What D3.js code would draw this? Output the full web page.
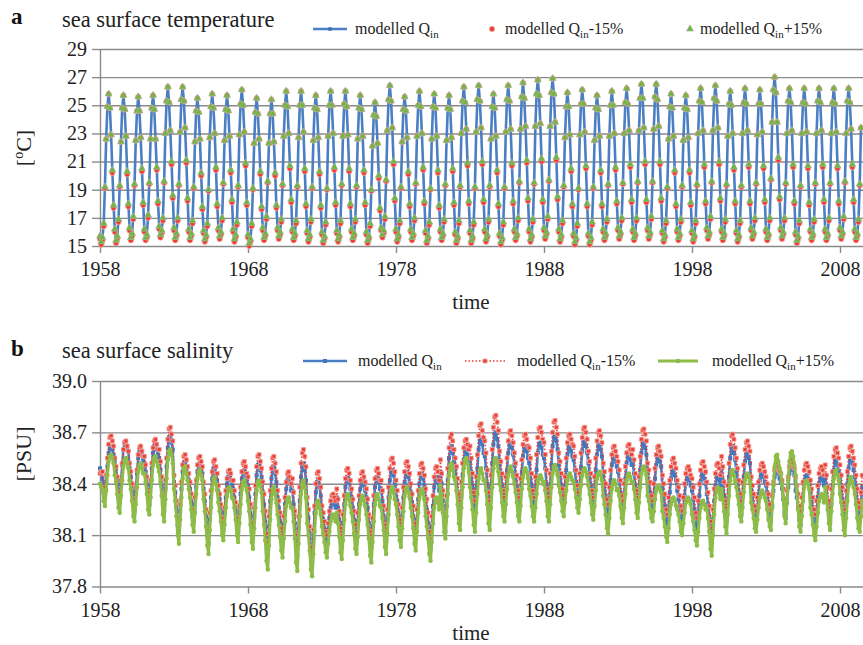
<!DOCTYPE html>
<html>
<head>
<meta charset="utf-8">
<script src="https://cdn.jsdelivr.net/npm/d3@7"></script>
<style>
  body { margin: 0; background: #fff; }
  svg { display: block; }
  svg text { font-family: "Liberation Serif", "Times New Roman", serif; }
</style>
</head>
<body>
<div id="chart"></div>
<script>
// --- DATA: monthly values, one row per year, starting Jan 1958 ---

// sea surface temperature [ºC]
const sstBase = [
  [15.7,15.3,15.6,16.6,19.2,22.6,24.9,25.8,24.8,22.9,20.4,17.9],
  [16.2,15.4,15.7,16.9,19.3,22.4,24.8,25.7,24.7,22.8,20.3,18.0],
  [16.3,15.6,15.9,17.1,19.4,22.5,24.6,25.6,24.6,22.7,20.5,18.1],
  [16.2,15.6,15.8,17.2,19.5,22.6,24.8,25.7,24.7,22.6,20.6,18.2],
  [16.4,15.8,16.1,17.0,19.6,23.0,25.3,26.3,25.2,23.2,21.0,18.6],
  [16.3,15.6,15.9,17.0,19.4,23.1,25.4,26.3,25.3,23.4,21.1,18.4],
  [16.2,15.6,15.9,16.8,19.2,22.4,24.6,25.5,24.5,22.6,20.2,17.8],
  [16.1,15.5,15.8,16.6,19.0,22.7,24.9,25.8,24.8,23.0,20.6,18.0],
  [16.3,15.7,16.0,17.0,19.5,22.5,24.7,25.7,24.6,22.8,20.4,18.3],
  [16.2,15.5,15.8,16.7,19.3,22.9,25.1,26.1,25.0,23.1,20.9,18.1],
  [15.8,15.2,15.5,16.6,19.1,22.3,24.5,25.5,24.4,22.6,20.3,17.8],
  [16.3,15.6,15.9,17.1,19.6,22.3,24.4,25.4,24.4,22.4,20.2,17.9],
  [16.3,15.7,16.0,16.9,19.4,22.8,25.0,26.0,24.9,23.0,20.7,18.3],
  [16.2,15.6,15.9,16.8,19.3,22.7,25.0,26.0,25.0,23.1,20.5,18.0],
  [16.1,15.5,15.8,16.9,19.2,22.5,24.8,25.7,24.7,22.7,20.3,17.9],
  [16.0,15.4,15.7,16.7,19.1,22.8,25.0,26.0,25.0,23.0,20.6,18.1],
  [16.1,15.5,15.8,16.8,19.4,22.8,25.1,26.0,24.9,22.9,20.5,18.0],
  [16.2,15.6,15.9,16.9,19.3,22.6,24.8,25.7,24.7,22.8,20.4,18.1],
  [16.0,15.4,15.7,16.6,19.0,22.1,24.3,25.2,24.2,22.3,20.0,17.7],
  [16.3,15.8,16.1,17.1,19.7,23.2,25.4,26.4,25.3,23.4,21.0,18.4],
  [16.2,15.5,15.8,16.8,19.2,22.4,24.7,25.6,24.6,22.7,20.3,18.0],
  [16.2,15.6,15.9,17.0,19.5,22.8,25.0,26.0,24.9,23.0,20.6,18.2],
  [16.1,15.4,15.7,16.7,19.1,22.6,24.9,25.8,24.8,22.8,20.4,17.9],
  [16.2,15.6,15.9,16.9,19.4,22.5,24.8,25.7,24.7,22.7,20.5,18.1],
  [16.0,15.4,15.7,16.8,19.3,23.0,25.3,26.3,25.2,23.3,20.9,18.2],
  [16.1,15.4,15.7,16.7,19.2,23.1,25.4,26.4,25.3,23.4,21.0,18.3],
  [16.2,15.5,15.8,16.9,19.3,22.6,24.9,25.8,24.8,22.8,20.4,18.0],
  [15.9,15.3,15.6,16.7,19.2,23.1,25.4,26.4,25.3,23.3,20.9,18.2],
  [16.2,15.6,15.9,17.0,19.6,23.3,25.6,26.6,25.5,23.5,21.1,18.4],
  [16.2,15.5,15.8,16.9,19.5,23.5,25.8,26.8,25.7,23.7,21.2,18.3],
  [16.3,15.7,16.0,17.1,19.7,23.5,25.9,26.9,25.8,23.8,21.3,18.5],
  [16.2,15.5,15.8,16.8,19.3,22.7,24.9,25.9,24.9,22.9,20.5,18.0],
  [15.9,15.3,15.6,16.6,19.1,22.9,25.1,26.1,25.1,23.1,20.7,18.0],
  [15.9,15.3,15.6,16.7,19.2,22.5,24.8,25.7,24.7,22.8,20.4,18.0],
  [16.2,15.6,15.9,16.9,19.4,22.8,25.0,26.0,25.0,23.0,20.6,18.2],
  [16.3,15.7,16.0,17.0,19.5,23.0,25.2,26.2,25.1,23.2,20.8,18.3],
  [16.2,15.6,15.9,17.0,19.6,23.2,25.5,26.5,25.5,23.4,21.0,18.3],
  [16.3,15.7,16.0,17.1,19.6,23.3,25.6,26.5,25.4,23.5,21.0,18.4],
  [16.1,15.5,15.8,16.8,19.2,22.6,24.9,25.8,24.8,22.8,20.4,18.0],
  [16.2,15.6,15.9,16.9,19.3,22.5,24.8,25.7,24.7,22.7,20.4,18.1],
  [16.1,15.5,15.8,16.8,19.4,23.0,25.3,26.2,25.2,23.2,20.8,18.2],
  [16.3,15.7,16.0,17.1,19.6,23.2,25.5,26.4,25.3,23.4,21.0,18.4],
  [16.2,15.6,15.9,16.9,19.4,22.8,25.1,26.0,25.0,23.0,20.6,18.2],
  [16.1,15.5,15.8,16.8,19.3,23.0,25.2,26.2,25.1,23.2,20.8,18.2],
  [16.3,15.7,16.0,17.0,19.5,22.9,25.1,26.1,25.1,23.1,20.7,18.3],
  [16.2,15.6,15.9,17.0,19.8,23.8,26.1,27.0,25.9,23.8,21.3,18.5],
  [16.3,15.7,16.0,17.0,19.5,23.0,25.3,26.2,25.2,23.2,20.8,18.2],
  [16.0,15.4,15.7,16.8,19.3,23.0,25.2,26.2,25.1,23.1,20.7,18.1],
  [16.2,15.6,15.9,16.9,19.5,23.0,25.3,26.2,25.2,23.2,20.8,18.3],
  [16.2,15.6,15.9,17.0,19.5,23.0,25.2,26.2,25.1,23.1,20.7,18.2],
  [16.3,15.7,16.0,17.1,19.6,23.0,25.3,26.2,25.2,23.3,20.8,18.3],
  [16.2,15.6,15.9,16.9,19.4,23.4]
];

const sstMinus15 = [
  [15.5,15.1,15.4,16.4,19.1,22.6,24.9,25.8,24.8,22.9,20.2,17.7],
  [16.0,15.2,15.5,16.7,19.2,22.4,24.8,25.7,24.7,22.8,20.1,17.8],
  [16.1,15.4,15.7,16.9,19.3,22.5,24.6,25.6,24.6,22.7,20.3,17.9],
  [16.0,15.4,15.6,17.0,19.4,22.6,24.8,25.7,24.7,22.6,20.4,18.0],
  [16.2,15.6,15.9,16.8,19.5,23.0,25.3,26.3,25.2,23.2,20.8,18.4],
  [16.1,15.4,15.7,16.8,19.3,23.1,25.4,26.3,25.3,23.4,20.9,18.2],
  [16.0,15.4,15.7,16.6,19.1,22.4,24.6,25.5,24.5,22.6,20.0,17.6],
  [15.9,15.3,15.6,16.4,18.9,22.7,24.9,25.8,24.8,23.0,20.4,17.8],
  [16.1,15.5,15.8,16.8,19.4,22.5,24.7,25.7,24.6,22.8,20.2,18.1],
  [16.0,15.3,15.6,16.5,19.2,22.9,25.1,26.1,25.0,23.1,20.7,17.9],
  [15.6,15.0,15.3,16.4,19.0,22.3,24.5,25.5,24.4,22.6,20.1,17.6],
  [16.1,15.4,15.7,16.9,19.5,22.3,24.4,25.4,24.4,22.4,20.0,17.7],
  [16.1,15.5,15.8,16.7,19.3,22.8,25.0,26.0,24.9,23.0,20.5,18.1],
  [16.0,15.4,15.7,16.6,19.2,22.7,25.0,26.0,25.0,23.1,20.3,17.8],
  [15.9,15.3,15.6,16.7,19.1,22.5,24.8,25.7,24.7,22.7,20.1,17.7],
  [15.8,15.2,15.5,16.5,19.0,22.8,25.0,26.0,25.0,23.0,20.4,17.9],
  [15.9,15.3,15.6,16.6,19.3,22.8,25.1,26.0,24.9,22.9,20.3,17.8],
  [16.0,15.4,15.7,16.7,19.2,22.6,24.8,25.7,24.7,22.8,20.2,17.9],
  [15.8,15.2,15.5,16.4,18.9,22.1,24.3,25.2,24.2,22.3,19.8,17.5],
  [16.1,15.6,15.9,16.9,19.6,23.2,25.4,26.4,25.3,23.4,20.8,18.2],
  [16.0,15.3,15.6,16.6,19.1,22.4,24.7,25.6,24.6,22.7,20.1,17.8],
  [16.0,15.4,15.7,16.8,19.4,22.8,25.0,26.0,24.9,23.0,20.4,18.0],
  [15.9,15.2,15.5,16.5,19.0,22.6,24.9,25.8,24.8,22.8,20.2,17.7],
  [16.0,15.4,15.7,16.7,19.3,22.5,24.8,25.7,24.7,22.7,20.3,17.9],
  [15.8,15.2,15.5,16.6,19.2,23.0,25.3,26.3,25.2,23.3,20.7,18.0],
  [15.9,15.2,15.5,16.5,19.1,23.1,25.4,26.4,25.3,23.4,20.8,18.1],
  [16.0,15.3,15.6,16.7,19.2,22.6,24.9,25.8,24.8,22.8,20.2,17.8],
  [15.7,15.1,15.4,16.5,19.1,23.1,25.4,26.4,25.3,23.3,20.7,18.0],
  [16.0,15.4,15.7,16.8,19.5,23.3,25.6,26.6,25.5,23.5,20.9,18.2],
  [16.0,15.3,15.6,16.7,19.4,23.5,25.8,26.8,25.7,23.7,21.0,18.1],
  [16.1,15.5,15.8,16.9,19.6,23.5,25.9,26.9,25.8,23.8,21.1,18.3],
  [16.0,15.3,15.6,16.6,19.2,22.7,24.9,25.9,24.9,22.9,20.3,17.8],
  [15.7,15.1,15.4,16.4,19.0,22.9,25.1,26.1,25.1,23.1,20.5,17.8],
  [15.7,15.1,15.4,16.5,19.1,22.5,24.8,25.7,24.7,22.8,20.2,17.8],
  [16.0,15.4,15.7,16.7,19.3,22.8,25.0,26.0,25.0,23.0,20.4,18.0],
  [16.1,15.5,15.8,16.8,19.4,23.0,25.2,26.2,25.1,23.2,20.6,18.1],
  [16.0,15.4,15.7,16.8,19.5,23.2,25.5,26.5,25.5,23.4,20.8,18.1],
  [16.1,15.5,15.8,16.9,19.5,23.3,25.6,26.5,25.4,23.5,20.8,18.2],
  [15.9,15.3,15.6,16.6,19.1,22.6,24.9,25.8,24.8,22.8,20.2,17.8],
  [16.0,15.4,15.7,16.7,19.2,22.5,24.8,25.7,24.7,22.7,20.2,17.9],
  [15.9,15.3,15.6,16.6,19.3,23.0,25.3,26.2,25.2,23.2,20.6,18.0],
  [16.1,15.5,15.8,16.9,19.5,23.2,25.5,26.4,25.3,23.4,20.8,18.2],
  [16.0,15.4,15.7,16.7,19.3,22.8,25.1,26.0,25.0,23.0,20.4,18.0],
  [15.9,15.3,15.6,16.6,19.2,23.0,25.2,26.2,25.1,23.2,20.6,18.0],
  [16.1,15.5,15.8,16.8,19.4,22.9,25.1,26.1,25.1,23.1,20.5,18.1],
  [16.0,15.4,15.7,16.8,19.7,23.8,26.1,27.0,25.9,23.8,21.1,18.3],
  [16.1,15.5,15.8,16.8,19.4,23.0,25.3,26.2,25.2,23.2,20.6,18.0],
  [15.8,15.2,15.5,16.6,19.2,23.0,25.2,26.2,25.1,23.1,20.5,17.9],
  [16.0,15.4,15.7,16.7,19.4,23.0,25.3,26.2,25.2,23.2,20.6,18.1],
  [16.0,15.4,15.7,16.8,19.4,23.0,25.2,26.2,25.1,23.1,20.5,18.0],
  [16.1,15.5,15.8,16.9,19.5,23.0,25.3,26.2,25.2,23.3,20.6,18.1],
  [16.0,15.4,15.7,16.7,19.3,23.4]
];

// the +15% run sits on top of the reference run at this scale
const sstPlus15 = sstBase;

// sea surface salinity [PSU]
const sssBase = [
  [38.49,38.47,38.43,38.35,38.32,38.41,38.50,38.58,38.61,38.62,38.60,38.57],
  [38.54,38.49,38.42,38.33,38.29,38.40,38.51,38.60,38.64,38.65,38.62,38.59],
  [38.49,38.44,38.37,38.28,38.24,38.35,38.46,38.55,38.59,38.60,38.57,38.54],
  [38.52,38.47,38.40,38.32,38.28,38.39,38.49,38.58,38.62,38.63,38.60,38.57],
  [38.55,38.48,38.39,38.28,38.24,38.37,38.50,38.61,38.67,38.68,38.64,38.60],
  [38.41,38.35,38.26,38.16,38.12,38.24,38.37,38.47,38.52,38.53,38.50,38.46],
  [38.42,38.37,38.30,38.21,38.18,38.28,38.38,38.47,38.51,38.52,38.49,38.46],
  [38.37,38.30,38.21,38.10,38.05,38.19,38.32,38.43,38.49,38.50,38.46,38.42],
  [38.35,38.31,38.24,38.16,38.13,38.23,38.32,38.40,38.44,38.45,38.42,38.39],
  [38.37,38.32,38.25,38.16,38.12,38.23,38.34,38.43,38.47,38.48,38.45,38.42],
  [38.39,38.32,38.23,38.12,38.08,38.21,38.34,38.45,38.51,38.52,38.48,38.44],
  [38.35,38.28,38.18,38.05,38.00,38.15,38.30,38.43,38.49,38.50,38.46,38.41],
  [38.32,38.26,38.18,38.09,38.05,38.16,38.28,38.37,38.42,38.43,38.40,38.36],
  [38.36,38.28,38.17,38.03,37.98,38.14,38.30,38.44,38.50,38.52,38.48,38.42],
  [38.28,38.20,38.11,37.99,37.94,38.08,38.23,38.35,38.41,38.42,38.38,38.33],
  [38.23,38.19,38.14,38.08,38.06,38.13,38.20,38.26,38.29,38.30,38.28,38.26],
  [38.32,38.26,38.19,38.09,38.05,38.17,38.28,38.38,38.43,38.44,38.41,38.37],
  [38.32,38.26,38.19,38.11,38.07,38.18,38.28,38.37,38.41,38.42,38.39,38.36],
  [38.32,38.26,38.17,38.07,38.03,38.15,38.28,38.38,38.43,38.44,38.41,38.37],
  [38.36,38.30,38.21,38.11,38.07,38.19,38.32,38.42,38.47,38.48,38.45,38.41],
  [38.36,38.30,38.23,38.14,38.10,38.21,38.32,38.41,38.46,38.47,38.44,38.40],
  [38.35,38.29,38.21,38.12,38.08,38.19,38.31,38.40,38.45,38.46,38.43,38.39],
  [38.31,38.25,38.17,38.06,38.02,38.15,38.27,38.38,38.43,38.44,38.41,38.36],
  [38.47,38.40,38.30,38.17,38.12,38.27,38.42,38.55,38.61,38.62,38.58,38.53],
  [38.49,38.43,38.35,38.26,38.22,38.33,38.45,38.54,38.59,38.60,38.57,38.53],
  [38.53,38.47,38.39,38.28,38.24,38.37,38.49,38.60,38.65,38.66,38.63,38.58],
  [38.56,38.49,38.40,38.29,38.24,38.38,38.52,38.63,38.69,38.70,38.66,38.62],
  [38.52,38.46,38.39,38.29,38.25,38.37,38.48,38.58,38.63,38.64,38.61,38.57],
  [38.51,38.45,38.38,38.29,38.25,38.36,38.47,38.56,38.61,38.62,38.59,38.55],
  [38.52,38.46,38.39,38.29,38.25,38.37,38.48,38.58,38.63,38.64,38.61,38.57],
  [38.55,38.49,38.40,38.29,38.25,38.38,38.51,38.62,38.67,38.68,38.65,38.60],
  [38.51,38.46,38.39,38.31,38.27,38.38,38.48,38.57,38.61,38.62,38.59,38.56],
  [38.54,38.48,38.41,38.32,38.28,38.39,38.50,38.59,38.64,38.65,38.62,38.58],
  [38.52,38.46,38.39,38.30,38.26,38.37,38.48,38.57,38.62,38.63,38.60,38.56],
  [38.45,38.40,38.33,38.24,38.20,38.31,38.42,38.51,38.55,38.56,38.53,38.50],
  [38.47,38.42,38.35,38.26,38.23,38.33,38.43,38.52,38.56,38.57,38.54,38.51],
  [38.52,38.46,38.39,38.29,38.25,38.37,38.48,38.58,38.63,38.64,38.61,38.57],
  [38.46,38.41,38.35,38.26,38.23,38.33,38.43,38.51,38.55,38.56,38.53,38.50],
  [38.38,38.33,38.27,38.18,38.15,38.25,38.35,38.43,38.47,38.48,38.45,38.42],
  [38.36,38.31,38.26,38.19,38.16,38.24,38.33,38.40,38.43,38.44,38.42,38.39],
  [38.36,38.31,38.25,38.16,38.13,38.23,38.33,38.41,38.45,38.46,38.43,38.40],
  [38.34,38.28,38.21,38.12,38.08,38.19,38.30,38.39,38.44,38.45,38.42,38.38],
  [38.49,38.42,38.33,38.22,38.18,38.31,38.44,38.55,38.61,38.62,38.58,38.54],
  [38.47,38.42,38.35,38.26,38.22,38.33,38.44,38.53,38.57,38.58,38.55,38.52],
  [38.37,38.33,38.27,38.20,38.17,38.26,38.34,38.42,38.45,38.46,38.44,38.41],
  [38.39,38.35,38.29,38.21,38.18,38.27,38.36,38.44,38.47,38.48,38.46,38.43],
  [38.41,38.37,38.31,38.23,38.20,38.29,38.38,38.46,38.49,38.50,38.48,38.45],
  [38.36,38.32,38.26,38.19,38.16,38.25,38.33,38.41,38.44,38.45,38.43,38.40],
  [38.35,38.31,38.25,38.17,38.14,38.23,38.32,38.40,38.43,38.44,38.42,38.39],
  [38.43,38.37,38.30,38.21,38.17,38.28,38.39,38.48,38.53,38.54,38.51,38.47],
  [38.44,38.38,38.31,38.22,38.18,38.29,38.40,38.49,38.54,38.55,38.52,38.48],
  [38.44,38.38,38.30,38.22,38.19,38.28,38.38]
];

const sssMinus15 = [
  [38.46,38.47,38.47,38.38,38.35,38.45,38.55,38.63,38.67,38.68,38.65,38.62],
  [38.55,38.50,38.44,38.35,38.32,38.42,38.52,38.60,38.64,38.65,38.62,38.59],
  [38.52,38.47,38.40,38.31,38.28,38.38,38.48,38.57,38.61,38.62,38.59,38.56],
  [38.56,38.51,38.44,38.35,38.32,38.42,38.52,38.61,38.65,38.66,38.63,38.60],
  [38.60,38.53,38.44,38.33,38.28,38.42,38.55,38.66,38.72,38.73,38.69,38.65],
  [38.45,38.39,38.30,38.20,38.16,38.28,38.41,38.51,38.56,38.57,38.54,38.50],
  [38.46,38.41,38.34,38.25,38.22,38.32,38.42,38.51,38.55,38.56,38.53,38.50],
  [38.41,38.34,38.25,38.14,38.10,38.23,38.36,38.47,38.53,38.54,38.50,38.46],
  [38.39,38.34,38.28,38.20,38.17,38.26,38.36,38.43,38.47,38.48,38.46,38.42],
  [38.42,38.36,38.29,38.20,38.16,38.27,38.38,38.47,38.52,38.53,38.50,38.46],
  [38.44,38.37,38.28,38.17,38.12,38.26,38.39,38.50,38.56,38.57,38.53,38.49],
  [38.41,38.34,38.24,38.11,38.06,38.21,38.36,38.49,38.55,38.56,38.52,38.47],
  [38.36,38.30,38.23,38.14,38.10,38.21,38.32,38.41,38.46,38.47,38.44,38.40],
  [38.43,38.35,38.24,38.10,38.04,38.21,38.38,38.52,38.58,38.60,38.56,38.50],
  [38.32,38.25,38.15,38.03,37.98,38.13,38.27,38.40,38.46,38.47,38.43,38.38],
  [38.27,38.23,38.18,38.12,38.10,38.17,38.24,38.30,38.33,38.34,38.32,38.30],
  [38.37,38.31,38.24,38.14,38.10,38.22,38.33,38.43,38.48,38.49,38.46,38.42],
  [38.37,38.31,38.24,38.16,38.12,38.23,38.33,38.42,38.46,38.47,38.44,38.41],
  [38.37,38.31,38.22,38.12,38.08,38.20,38.33,38.43,38.48,38.49,38.46,38.42],
  [38.42,38.36,38.27,38.16,38.12,38.25,38.38,38.49,38.54,38.55,38.52,38.47],
  [38.42,38.36,38.28,38.19,38.15,38.26,38.38,38.47,38.52,38.53,38.50,38.46],
  [38.40,38.34,38.27,38.17,38.13,38.25,38.36,38.46,38.51,38.52,38.49,38.45],
  [38.37,38.31,38.23,38.12,38.08,38.21,38.33,38.44,38.49,38.50,38.47,38.42],
  [38.54,38.46,38.36,38.23,38.18,38.33,38.49,38.61,38.67,38.69,38.65,38.60],
  [38.55,38.50,38.43,38.34,38.30,38.41,38.52,38.61,38.65,38.66,38.63,38.60],
  [38.62,38.55,38.46,38.35,38.30,38.44,38.57,38.68,38.74,38.75,38.71,38.67],
  [38.65,38.58,38.48,38.35,38.30,38.45,38.60,38.73,38.79,38.80,38.76,38.71],
  [38.59,38.53,38.46,38.36,38.32,38.44,38.55,38.65,38.70,38.71,38.68,38.64],
  [38.58,38.52,38.45,38.36,38.32,38.43,38.54,38.63,38.68,38.69,38.66,38.62],
  [38.61,38.55,38.46,38.36,38.32,38.44,38.57,38.67,38.72,38.73,38.70,38.66],
  [38.64,38.57,38.48,38.37,38.32,38.46,38.59,38.70,38.76,38.77,38.73,38.69],
  [38.58,38.53,38.46,38.37,38.33,38.44,38.55,38.64,38.68,38.69,38.66,38.63],
  [38.62,38.56,38.48,38.39,38.35,38.46,38.58,38.67,38.72,38.73,38.70,38.66],
  [38.59,38.53,38.46,38.36,38.32,38.44,38.55,38.65,38.70,38.71,38.68,38.64],
  [38.52,38.47,38.40,38.31,38.28,38.38,38.48,38.57,38.61,38.62,38.59,38.56],
  [38.53,38.48,38.42,38.33,38.30,38.40,38.50,38.58,38.62,38.63,38.60,38.57],
  [38.60,38.54,38.46,38.36,38.32,38.44,38.56,38.66,38.71,38.72,38.69,38.65],
  [38.52,38.48,38.41,38.33,38.30,38.40,38.49,38.57,38.61,38.62,38.59,38.56],
  [38.45,38.40,38.34,38.25,38.22,38.32,38.42,38.50,38.54,38.55,38.52,38.49],
  [38.42,38.38,38.33,38.27,38.24,38.32,38.40,38.46,38.49,38.50,38.48,38.45],
  [38.43,38.38,38.32,38.23,38.20,38.30,38.40,38.48,38.52,38.53,38.50,38.47],
  [38.41,38.35,38.27,38.18,38.14,38.25,38.37,38.46,38.51,38.52,38.49,38.45],
  [38.56,38.50,38.41,38.30,38.26,38.39,38.52,38.63,38.68,38.69,38.66,38.61],
  [38.55,38.49,38.42,38.34,38.30,38.41,38.51,38.60,38.64,38.65,38.62,38.59],
  [38.44,38.39,38.34,38.27,38.24,38.32,38.41,38.48,38.51,38.52,38.50,38.47],
  [38.44,38.40,38.34,38.28,38.25,38.33,38.41,38.48,38.51,38.52,38.50,38.47],
  [38.46,38.42,38.37,38.31,38.28,38.36,38.44,38.50,38.53,38.54,38.52,38.49],
  [38.44,38.39,38.34,38.27,38.24,38.32,38.41,38.48,38.51,38.52,38.50,38.47],
  [38.42,38.37,38.32,38.25,38.22,38.30,38.39,38.46,38.49,38.50,38.48,38.45],
  [38.51,38.45,38.38,38.30,38.26,38.37,38.47,38.56,38.60,38.61,38.58,38.55],
  [38.51,38.45,38.38,38.29,38.25,38.36,38.47,38.56,38.61,38.62,38.59,38.55],
  [38.51,38.45,38.37,38.29,38.26,38.35,38.45]
];

const sssPlus15 = [
  [38.40,38.38,38.37,38.30,38.27,38.36,38.45,38.53,38.56,38.57,38.55,38.52],
  [38.45,38.41,38.34,38.26,38.23,38.33,38.42,38.50,38.54,38.55,38.52,38.49],
  [38.42,38.37,38.30,38.21,38.18,38.28,38.38,38.47,38.51,38.52,38.49,38.46],
  [38.46,38.41,38.34,38.25,38.22,38.32,38.42,38.51,38.55,38.56,38.53,38.50],
  [38.47,38.41,38.33,38.22,38.18,38.31,38.43,38.54,38.59,38.60,38.57,38.52],
  [38.37,38.30,38.21,38.10,38.05,38.19,38.32,38.43,38.49,38.50,38.46,38.42],
  [38.37,38.32,38.25,38.16,38.12,38.23,38.34,38.43,38.47,38.48,38.45,38.42],
  [38.31,38.24,38.15,38.04,37.99,38.13,38.26,38.37,38.43,38.44,38.40,38.36],
  [38.29,38.24,38.18,38.10,38.07,38.16,38.26,38.33,38.37,38.38,38.36,38.32],
  [38.31,38.26,38.19,38.10,38.06,38.17,38.28,38.37,38.41,38.42,38.39,38.36],
  [38.30,38.24,38.16,38.06,38.02,38.14,38.26,38.36,38.41,38.42,38.39,38.35],
  [38.24,38.16,38.07,37.95,37.90,38.04,38.19,38.31,38.37,38.38,38.34,38.29],
  [38.22,38.16,38.09,38.01,37.97,38.08,38.18,38.27,38.31,38.32,38.29,38.26],
  [38.26,38.18,38.08,37.94,37.89,38.05,38.21,38.34,38.40,38.42,38.38,38.32],
  [38.17,38.10,38.01,37.90,37.86,37.99,38.12,38.23,38.29,38.30,38.26,38.22],
  [38.15,38.11,38.06,38.00,37.97,38.05,38.12,38.18,38.21,38.22,38.20,38.18],
  [38.23,38.17,38.09,38.00,37.96,38.07,38.19,38.28,38.33,38.34,38.31,38.27],
  [38.23,38.18,38.11,38.02,37.99,38.09,38.19,38.28,38.32,38.33,38.30,38.27],
  [38.22,38.16,38.08,37.98,37.94,38.06,38.18,38.28,38.33,38.34,38.31,38.27],
  [38.26,38.20,38.13,38.03,37.99,38.11,38.22,38.32,38.37,38.38,38.35,38.31],
  [38.28,38.22,38.15,38.07,38.03,38.14,38.24,38.33,38.37,38.38,38.35,38.32],
  [38.26,38.21,38.14,38.05,38.01,38.12,38.23,38.32,38.36,38.37,38.34,38.31],
  [38.21,38.15,38.08,37.99,37.95,38.06,38.17,38.26,38.31,38.32,38.29,38.25],
  [38.39,38.32,38.23,38.12,38.08,38.21,38.34,38.45,38.51,38.52,38.48,38.44],
  [38.42,38.36,38.28,38.17,38.13,38.26,38.38,38.49,38.54,38.55,38.52,38.47],
  [38.38,38.32,38.25,38.16,38.12,38.23,38.34,38.43,38.48,38.49,38.46,38.42],
  [38.42,38.36,38.28,38.17,38.13,38.26,38.38,38.49,38.54,38.55,38.52,38.47],
  [38.40,38.36,38.29,38.21,38.18,38.28,38.37,38.45,38.49,38.50,38.47,38.44],
  [38.40,38.35,38.29,38.21,38.18,38.27,38.37,38.44,38.48,38.49,38.47,38.43],
  [38.37,38.33,38.27,38.21,38.18,38.26,38.34,38.41,38.44,38.45,38.43,38.40],
  [38.41,38.36,38.30,38.21,38.18,38.28,38.38,38.46,38.50,38.51,38.48,38.45],
  [38.39,38.35,38.30,38.24,38.21,38.29,38.36,38.42,38.45,38.46,38.44,38.42],
  [38.41,38.37,38.32,38.26,38.23,38.31,38.39,38.45,38.48,38.49,38.47,38.44],
  [38.39,38.34,38.29,38.22,38.19,38.27,38.36,38.43,38.46,38.47,38.45,38.42],
  [38.33,38.28,38.22,38.14,38.11,38.20,38.30,38.37,38.41,38.42,38.40,38.36],
  [38.37,38.33,38.27,38.20,38.17,38.26,38.34,38.42,38.45,38.46,38.44,38.41],
  [38.41,38.37,38.31,38.23,38.20,38.29,38.38,38.46,38.49,38.50,38.48,38.45],
  [38.33,38.30,38.25,38.20,38.18,38.24,38.31,38.36,38.38,38.39,38.37,38.35],
  [38.24,38.20,38.15,38.09,38.06,38.14,38.22,38.28,38.31,38.32,38.30,38.27],
  [38.25,38.22,38.18,38.12,38.10,38.17,38.23,38.29,38.31,38.32,38.30,38.28],
  [38.22,38.18,38.13,38.07,38.04,38.12,38.20,38.26,38.29,38.30,38.28,38.25],
  [38.26,38.20,38.12,38.02,37.98,38.10,38.22,38.32,38.37,38.38,38.35,38.31],
  [38.37,38.31,38.24,38.15,38.11,38.22,38.33,38.42,38.47,38.48,38.45,38.41],
  [38.38,38.33,38.28,38.21,38.18,38.26,38.35,38.42,38.45,38.46,38.44,38.41],
  [38.29,38.25,38.20,38.14,38.12,38.19,38.26,38.32,38.35,38.36,38.34,38.32],
  [38.30,38.25,38.19,38.15,38.13,38.26,38.39,38.50,38.56,38.57,38.53,38.49],
  [38.46,38.40,38.32,38.21,38.17,38.30,38.42,38.53,38.58,38.59,38.56,38.51],
  [38.45,38.36,38.25,38.15,38.12,38.21,38.30,38.38,38.41,38.42,38.40,38.37],
  [38.26,38.22,38.16,38.10,38.07,38.15,38.23,38.30,38.33,38.34,38.32,38.29],
  [38.38,38.32,38.25,38.17,38.13,38.24,38.34,38.43,38.47,38.48,38.45,38.42],
  [38.34,38.29,38.22,38.13,38.10,38.20,38.30,38.39,38.43,38.44,38.41,38.38],
  [38.34,38.28,38.20,38.14,38.12,38.21,38.30]
];

const sstTicks = [15, 17, 19, 21, 23, 25, 27, 29];
const sssTicks = [37.8, 38.1, 38.4, 38.7, 39.0];
const yearTicks = [1958, 1968, 1978, 1988, 1998, 2008];

// --- LAYOUT ---
const width = 863;
const height = 645;
const FONT = '"Liberation Serif", "Times New Roman", serif';
const GRID = "#8a8a8a";
const BLUE = "#4a7fc3";
const RED = "#ec3d33";
const GREEN = "#8dbd48";

const svg = d3.select("#chart")
  .append("svg")
  .attr("width", width)
  .attr("height", height)
  .style("background", "#fff")
  .attr("font-family", FONT);

const x = d3.scaleLinear().domain([1958, 2008]).range([100, 840]);
const yT = d3.scaleLinear().domain([15, 29]).range([246, 49]);
const yS = d3.scaleLinear().domain([37.8, 39.0]).range([586.5, 381]);

// monthly rows -> points, first value is Jan 1958
const toPoints = rows => rows.flat().map((v, i) => ({ t: 1958 + i / 12, v }));

function drawFrame(y, ticks, fmt) {
  const bottom = y.range()[0];

  // horizontal grid
  svg.append("g")
    .attr("transform", "translate(100,0)")
    .call(d3.axisLeft(y).tickValues(ticks).tickSize(-(width - 100)).tickFormat(""))
    .call(g => g.select(".domain").remove())
    .selectAll("line")
    .attr("stroke", GRID)
    .attr("stroke-width", 1.4);

  const gy = svg.append("g")
    .attr("transform", "translate(100,0)")
    .call(d3.axisLeft(y).tickValues(ticks).tickFormat(fmt).tickSize(8).tickPadding(5).tickSizeOuter(0));
  gy.attr("font-family", FONT).attr("font-size", 20).attr("color", "#222");
  gy.select(".domain").attr("stroke", GRID).attr("stroke-width", 1.4);
  gy.selectAll("line").attr("stroke", GRID).attr("stroke-width", 1.4);

  const gx = svg.append("g")
    .attr("transform", `translate(0,${bottom})`)
    .call(d3.axisBottom(x).tickValues(yearTicks).tickFormat(d3.format("d")).tickSize(7).tickPadding(9).tickSizeOuter(0));
  gx.attr("font-family", FONT).attr("font-size", 20).attr("color", "#222");
  gx.select(".domain").remove();
  gx.selectAll("line").attr("stroke", GRID).attr("stroke-width", 1.4);
}

function drawLine(points, y, color, w, dash) {
  svg.append("path")
    .datum(points)
    .attr("fill", "none")
    .attr("stroke", color)
    .attr("stroke-width", w)
    .attr("stroke-dasharray", dash || null)
    .attr("stroke-linejoin", "round")
    .attr("d", d3.line().x(d => x(d.t)).y(d => y(d.v)));
}

function drawMarkers(points, y, type, size, fill, stroke) {
  svg.append("g")
    .selectAll("path")
    .data(points)
    .join("path")
    .attr("transform", d => `translate(${x(d.t)},${y(d.v)})`)
    .attr("d", d3.symbol(type, size))
    .attr("fill", fill)
    .attr("stroke", stroke || "none")
    .attr("stroke-width", 0.8);
}

function legendText(xPos, yPos, suffix) {
  const t = svg.append("text")
    .attr("x", xPos)
    .attr("y", yPos)
    .attr("font-size", 16)
    .attr("fill", "#222");
  t.append("tspan").text("modelled Q");
  t.append("tspan").attr("font-size", 11).attr("dy", 4).text("in");
  if (suffix) t.append("tspan").attr("dy", -4).text(suffix);
}

// --- PANEL a ---
drawFrame(yT, sstTicks, d3.format("d"));

const sstB = toPoints(sstBase);
const sstM = toPoints(sstMinus15);
const sstP = toPoints(sstPlus15);

drawLine(sstB, yT, BLUE, 2.6);
drawMarkers(sstB, yT, d3.symbolSquare, 12, "#3c6fb5");
drawMarkers(sstM, yT, d3.symbolCircle, 22, RED, "#f3a49c");
drawMarkers(sstP, yT, d3.symbolTriangle, 20, "#6fb63a", "#a5b296");

svg.append("text").attr("x", 11).attr("y", 24)
  .attr("font-size", 23).attr("font-weight", "bold").attr("fill", "#111").text("a");
svg.append("text").attr("x", 62).attr("y", 27)
  .attr("font-size", 22.5).attr("fill", "#222").text("sea surface temperature");

const cLab = svg.append("text")
  .attr("transform", "translate(31,148) rotate(-90)")
  .attr("text-anchor", "middle")
  .attr("font-size", 22)
  .attr("fill", "#222");
cLab.append("tspan").text("[");
cLab.append("tspan").attr("font-size", 14).attr("dy", -8).text("o");
cLab.append("tspan").attr("dy", 8).text("C]");

svg.append("text").attr("x", 471).attr("y", 309)
  .attr("text-anchor", "middle").attr("font-size", 21).attr("fill", "#222").text("time");

// legend a
svg.append("line").attr("x1", 313).attr("x2", 347).attr("y1", 29).attr("y2", 29)
  .attr("stroke", BLUE).attr("stroke-width", 2.6);
svg.append("path").attr("transform", "translate(330,29)")
  .attr("d", d3.symbol(d3.symbolSquare, 12)).attr("fill", "#3c6fb5");
legendText(355, 34);
svg.append("path").attr("transform", "translate(492,29)")
  .attr("d", d3.symbol(d3.symbolCircle, 22)).attr("fill", RED).attr("stroke", "#f3a49c").attr("stroke-width", 0.8);
legendText(505, 34, "-15%");
svg.append("path").attr("transform", "translate(690,29)")
  .attr("d", d3.symbol(d3.symbolTriangle, 20)).attr("fill", "#6fb63a").attr("stroke", "#a5b296").attr("stroke-width", 0.8);
legendText(700, 34, "+15%");

// --- PANEL b ---
drawFrame(yS, sssTicks, d3.format(".1f"));

const sssB = toPoints(sssBase);
const sssM = toPoints(sssMinus15);
const sssP = toPoints(sssPlus15);

drawLine(sssB, yS, BLUE, 2.6);
drawMarkers(sssB, yS, d3.symbolSquare, 16, "#3f78c0");
drawLine(sssM, yS, RED, 1.6, "1.5,2");
drawMarkers(sssM, yS, d3.symbolSquare, 16, "#e8433a", "#f4a39b");
drawLine(sssP, yS, GREEN, 3);
drawMarkers(sssP, yS, d3.symbolCircle, 16, GREEN);

svg.append("text").attr("x", 11).attr("y", 356)
  .attr("font-size", 23).attr("font-weight", "bold").attr("fill", "#111").text("b");
svg.append("text").attr("x", 62).attr("y", 358)
  .attr("font-size", 22.5).attr("fill", "#222").text("sea surface salinity");

svg.append("text")
  .attr("transform", "translate(31,454) rotate(-90)")
  .attr("text-anchor", "middle")
  .attr("font-size", 22)
  .attr("fill", "#222")
  .text("[PSU]");

svg.append("text").attr("x", 471).attr("y", 640)
  .attr("text-anchor", "middle").attr("font-size", 21).attr("fill", "#222").text("time");

// legend b
svg.append("line").attr("x1", 303).attr("x2", 347).attr("y1", 361).attr("y2", 361)
  .attr("stroke", BLUE).attr("stroke-width", 2.6);
svg.append("path").attr("transform", "translate(325,361)")
  .attr("d", d3.symbol(d3.symbolSquare, 16)).attr("fill", "#3f78c0");
legendText(358, 366);
svg.append("line").attr("x1", 465).attr("x2", 505).attr("y1", 361).attr("y2", 361)
  .attr("stroke", RED).attr("stroke-width", 1.6).attr("stroke-dasharray", "1.5,2");
svg.append("path").attr("transform", "translate(485,361)")
  .attr("d", d3.symbol(d3.symbolSquare, 16)).attr("fill", "#e8433a").attr("stroke", "#f4a39b").attr("stroke-width", 0.8);
legendText(517, 366, "-15%");
svg.append("line").attr("x1", 658).attr("x2", 698).attr("y1", 361).attr("y2", 361)
  .attr("stroke", GREEN).attr("stroke-width", 3);
svg.append("path").attr("transform", "translate(678,361)")
  .attr("d", d3.symbol(d3.symbolCircle, 16)).attr("fill", GREEN);
legendText(712, 366, "+15%");
</script>
</body>
</html>
